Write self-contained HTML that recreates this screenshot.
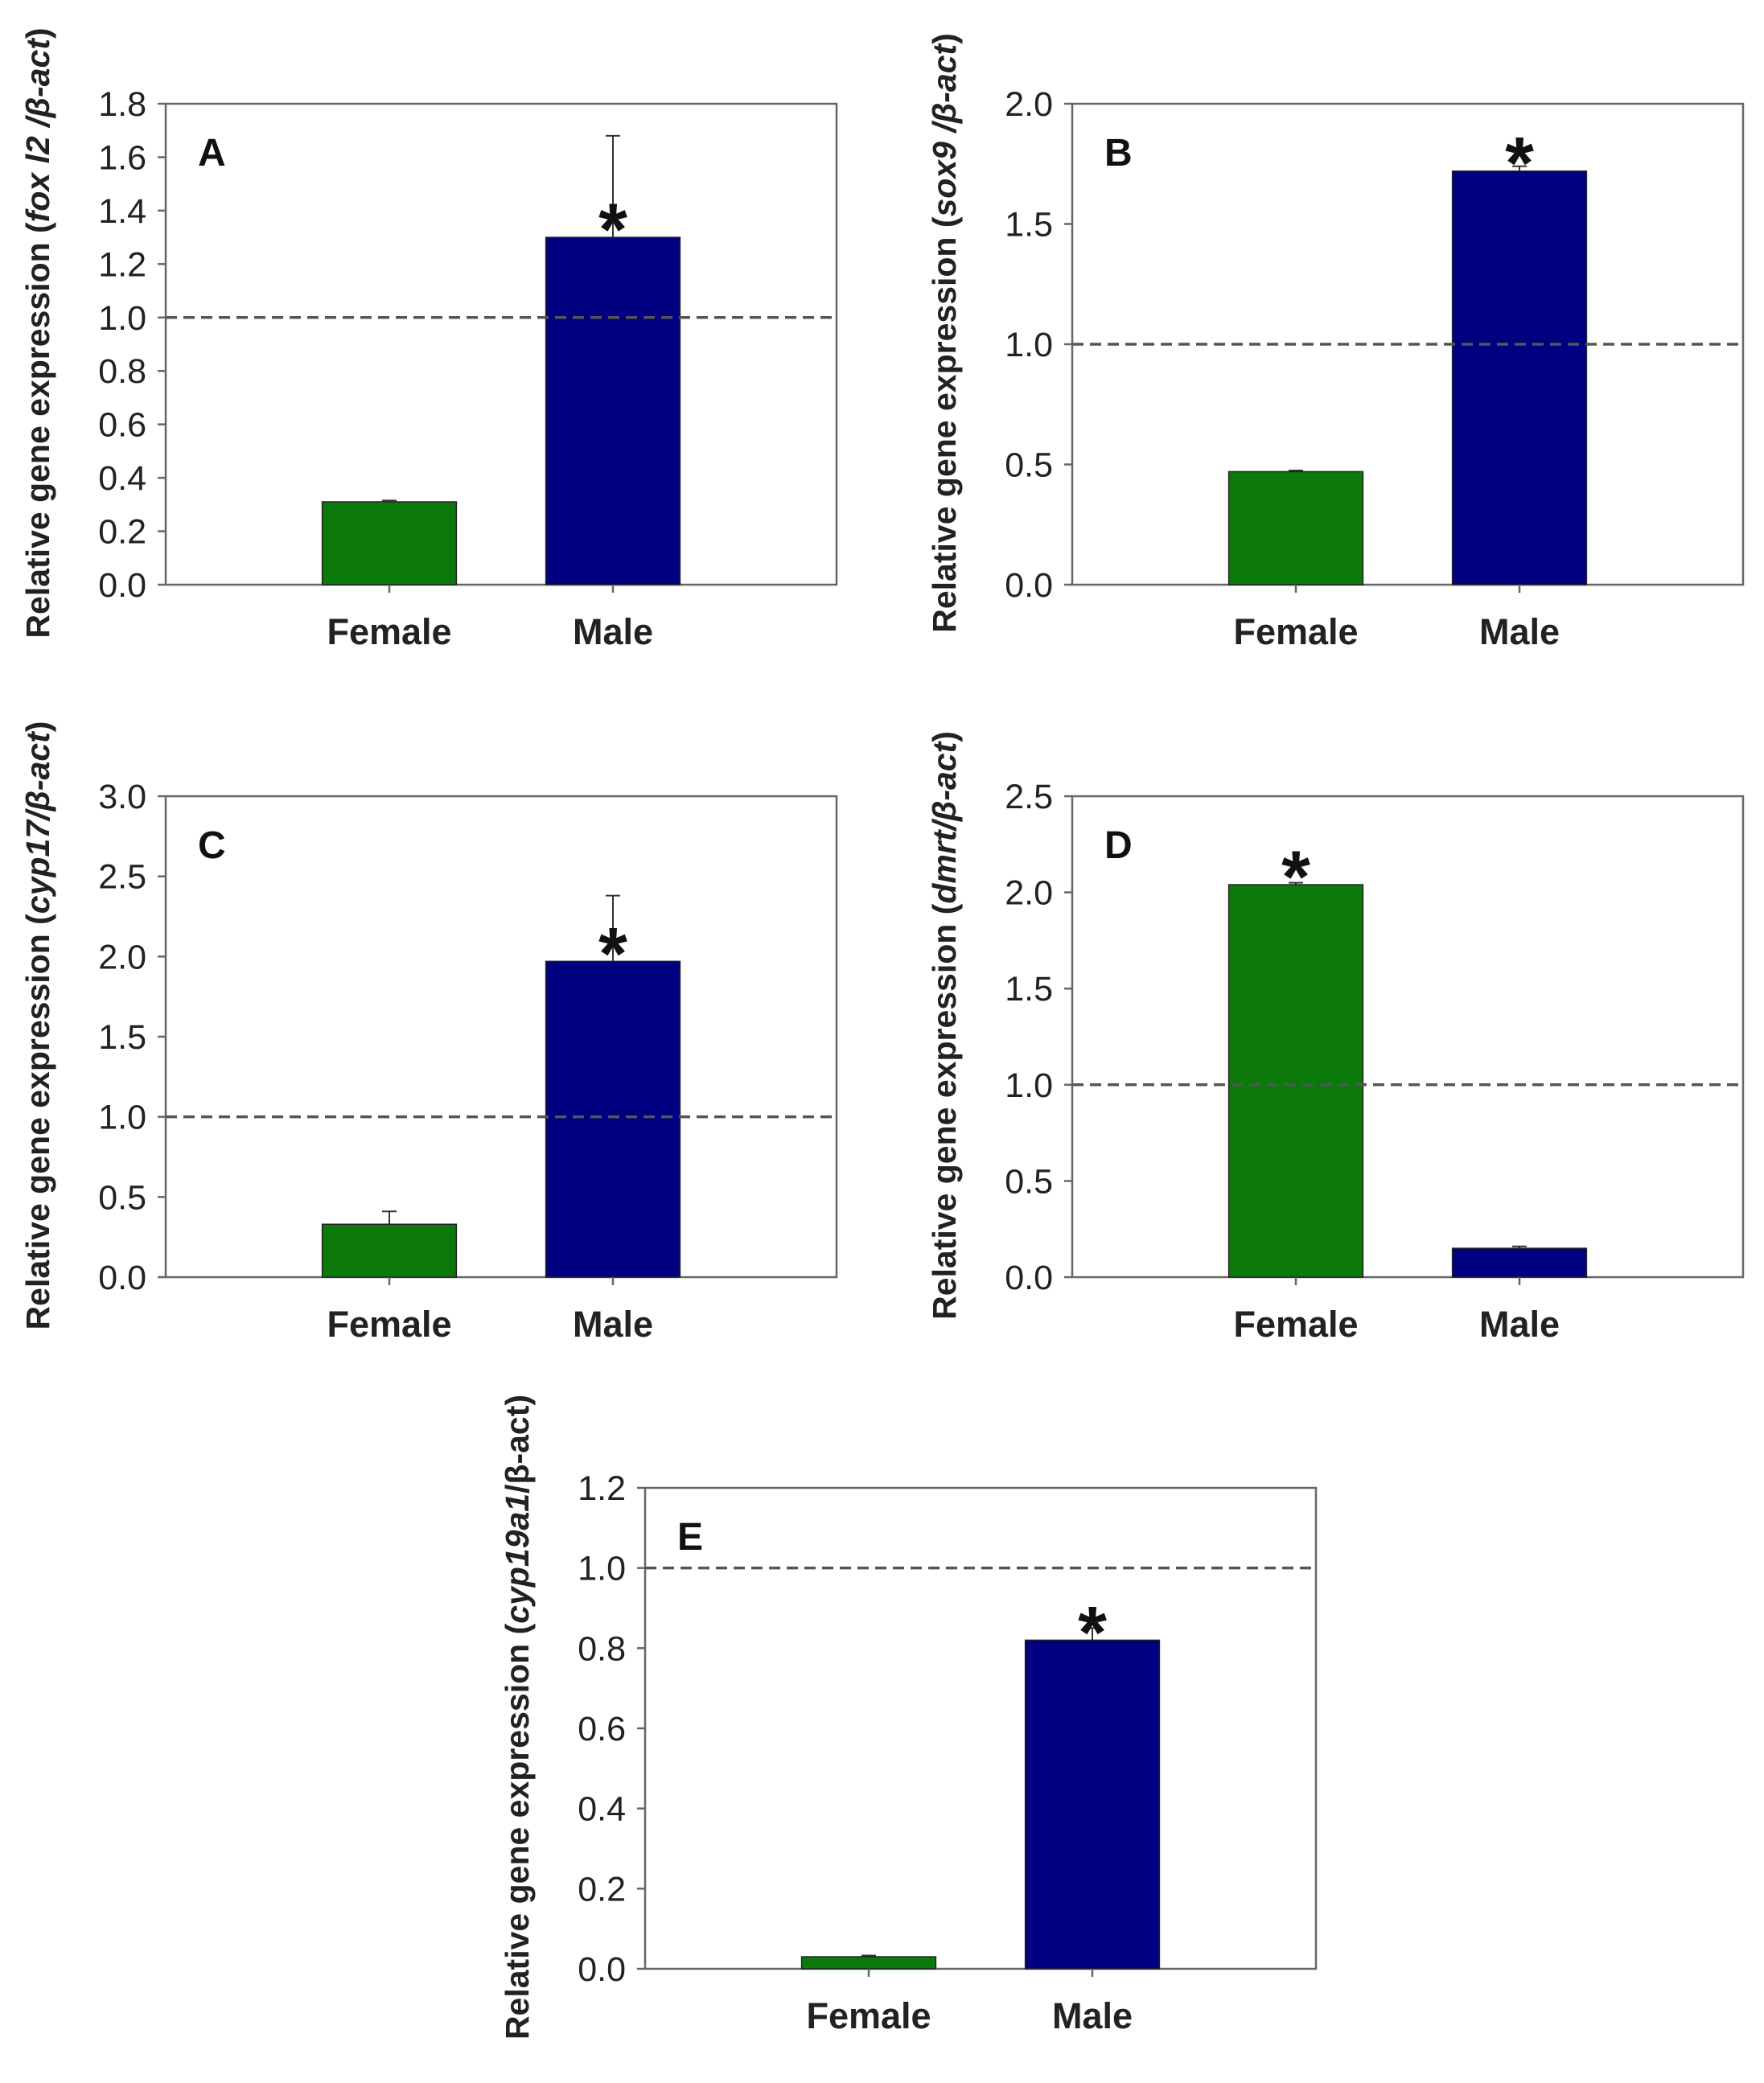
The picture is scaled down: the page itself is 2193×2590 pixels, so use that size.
<!DOCTYPE html>
<html><head><meta charset="utf-8"><style>
html,body{margin:0;padding:0;background:#fff;}
svg{display:block;font-family:"Liberation Sans",Arial,sans-serif;}
</style></head><body>
<svg id="fig" width="2193" height="2590" viewBox="0 0 2193 2590" xmlns="http://www.w3.org/2000/svg"></svg>
<script>
const categories = ["Female","Male"];
const panelLetters = ["A","B","C","D","E"];
const femaleValues = [0.31,0.47,0.33,2.04,0.03];
const maleValues = [1.30,1.72,1.97,0.15,0.82];
const femaleErrors = [0.005,0.005,0.08,0.01,0.003];
const maleErrors = [0.38,0.02,0.41,0.01,0.03];
const yMaxes = [1.8,2.0,3.0,2.5,1.2];
const yStepValues = [0.2,0.5,0.5,0.5,0.2];
const starOnFemale = [false,false,false,true,false];
const geneNames = ["fox l2 ","sox9 ","cyp17","dmrt","cyp19a1"];

const layout = [
 {x:206,y:129},{x:1333,y:129},
 {x:206,y:990},{x:1333,y:990},
 {x:802,y:1850}];
const W=834,H=598;
const NS="http://www.w3.org/2000/svg";
const svg=document.getElementById('fig');
function mk(tag,attrs,parent){const e=document.createElementNS(NS,tag);for(const k in attrs)e.setAttribute(k,attrs[k]);(parent||svg).appendChild(e);return e;}

panelLetters.forEach((L,i)=>{
  const P=layout[i];
  const g=mk('g',{});
  
  
  const ys=v=>P.y+H-v/yMaxes[i]*H;
  const xs=c=>P.x+c/3*W;
  const bw=0.6/3*W;
  const box=mk('rect',{x:P.x,y:P.y,width:W,height:H,fill:'none',stroke:'#666','stroke-width':2.5},g);
  
  
  const n=Math.round(yMaxes[i]/yStepValues[i]);
  for(let k=0;k<=n;k++){
    const v=k*yStepValues[i];const y=ys(v);
    const t=mk('line',{x1:P.x-10,x2:P.x,y1:y,y2:y,stroke:'#666','stroke-width':2.5},g);
    
    
    const tx=mk('text',{x:P.x-24,y:y+15,'font-size':43,'text-anchor':'end',fill:'#222'},g);
    tx.textContent=v.toFixed(1);
    
    
  }
  const vals=[femaleValues[i],maleValues[i]],errs=[femaleErrors[i],maleErrors[i]],cols=['#0b7a0b','#000080'];
  vals.forEach((v,c)=>{
    const cx=xs(c+1);
    const e=mk('line',{x1:cx,x2:cx,y1:ys(v),y2:ys(v+errs[c]),stroke:'#333','stroke-width':2},g);
    
    
    const cap=mk('line',{x1:cx-9,x2:cx+9,y1:ys(v+errs[c]),y2:ys(v+errs[c]),stroke:'#333','stroke-width':2},g);
    
    
    const b=mk('rect',{x:cx-bw/2,y:ys(v),width:bw,height:ys(0)-ys(v),fill:cols[c],stroke:'#222','stroke-width':1.5},g);
    
    
    const xt=mk('line',{x1:cx,x2:cx,y1:P.y+H,y2:P.y+H+10,stroke:'#666','stroke-width':2.5},g);
    
    
    const lb=mk('text',{x:cx,y:P.y+H+74,'font-size':45,'font-weight':'bold','text-anchor':'middle',fill:'#222'},g);
    lb.textContent=categories[c];
    
    
    const starCat=starOnFemale[i]?0:1;
    if(c===starCat){
      const s=mk('text',{x:cx,y:ys(v)+22,'font-size':92,'font-weight':'bold','text-anchor':'middle',fill:'#111'},g);
      s.textContent='*';
      
      
    }
  });
  const d=mk('line',{x1:P.x,x2:P.x+W,y1:ys(1),y2:ys(1),stroke:'#555','stroke-width':3.5,'stroke-dasharray':'14 8'},g);
  
  
  const lt=mk('text',{x:P.x+40,y:P.y+77,'font-size':48,'font-weight':'bold',fill:'#111'},g);
  lt.textContent=L;
  
  
  const cy=P.y+H/2-14;
  const yl=mk('text',{x:0,y:0,'font-size':41,'font-weight':'bold','text-anchor':'middle',fill:'#222',transform:`translate(${P.x-145},${cy}) rotate(-90)`},g);
  
  
  const t1=mk('tspan',{},yl);t1.textContent='Relative gene expression (';
  const t2=mk('tspan',{'font-style':'italic'},yl);t2.textContent=geneNames[i];
  const t3=mk('tspan',{'font-style':i===4?'normal':'italic'},yl);t3.textContent='/β-act';
  const t4=mk('tspan',{},yl);t4.textContent=')';
});
</script>
</body></html>
